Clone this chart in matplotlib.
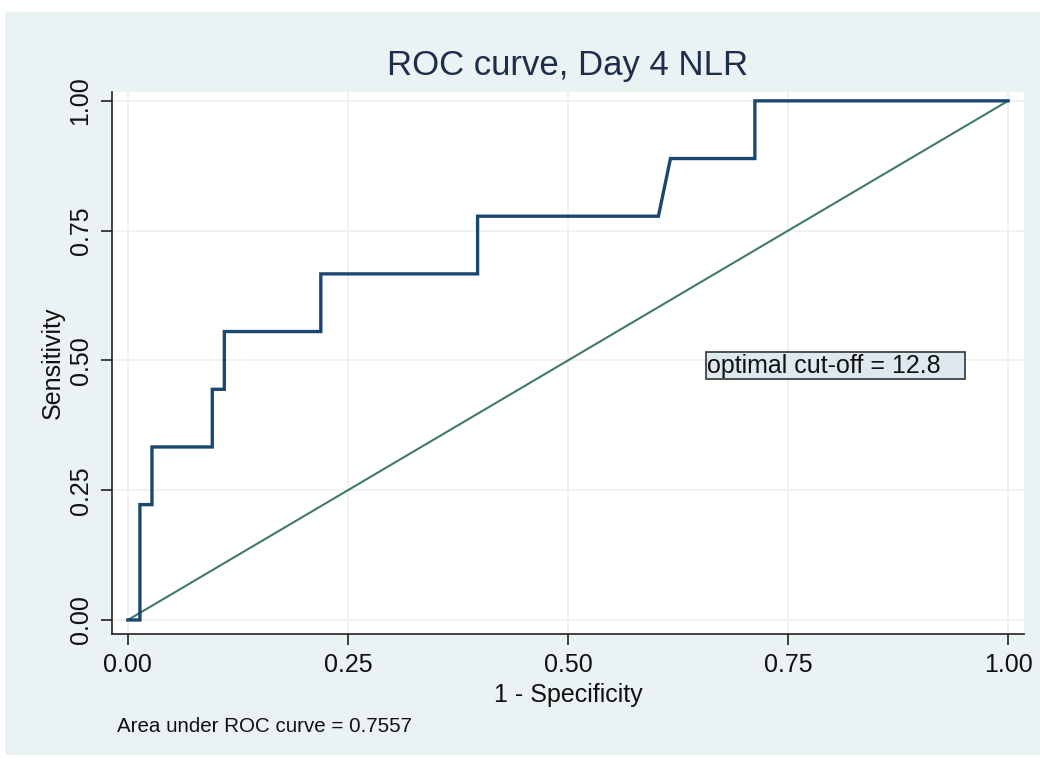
import matplotlib.pyplot as plt
from matplotlib.patches import Rectangle

plt.rcParams['font.family'] = ['Liberation Sans', 'DejaVu Sans']

# ROC curve points (1 - specificity, sensitivity)
fpr = [0.0, 0.0137, 0.0137, 0.0274, 0.0274, 0.0959, 0.0959, 0.1096, 0.1096,
       0.2192, 0.2192, 0.3973, 0.3973, 0.6027, 0.6164, 0.7123, 0.7123, 1.0]
tpr = [0.0, 0.0, 0.2222, 0.2222, 0.3333, 0.3333, 0.4444, 0.4444, 0.5556,
       0.5556, 0.6667, 0.6667, 0.7778, 0.7778, 0.8889, 0.8889, 1.0, 1.0]
ref_x = [0.0, 1.0]
ref_y = [0.0, 1.0]
ticks = [0.0, 0.25, 0.5, 0.75, 1.0]
tick_labels = ['0.00', '0.25', '0.50', '0.75', '1.00']
auc = 0.7557
cutoff = 12.8

bg = '#eaf2f3'
fig = plt.figure(figsize=(10.4, 7.6), dpi=100, facecolor='white')
fig.patches.append(Rectangle((5/1040, 5/760), 1 - 5/1040, 1 - 17/760,
                             transform=fig.transFigure, facecolor=bg,
                             edgecolor='none', zorder=-10))

ax = fig.add_axes([0.1077, 0.1658, 0.8769, 0.7131])
ax.set_facecolor('white')

ax.plot(fpr, tpr, color='#1a476f', lw=2.4, solid_joinstyle='miter', zorder=3)
ax.plot(ref_x, ref_y, color='#3f7a6c', lw=1.5, zorder=2)

ax.set_xlim(-0.018, 1.018)
ax.set_ylim(-0.027, 1.017)
ax.set_xticks(ticks)
ax.set_xticklabels(tick_labels)
ax.set_yticks(ticks)
ax.set_yticklabels(tick_labels, rotation=90, va='center')
ax.grid(True, color='#f0f0f0', lw=1.3)
ax.set_axisbelow(True)

for s in ['top', 'right']:
    ax.spines[s].set_visible(False)
for s in ['left', 'bottom']:
    ax.spines[s].set_color('#222222')
    ax.spines[s].set_linewidth(1.2)
ax.tick_params(axis='both', labelsize=18, length=8, width=1.2,
               color='#222222', labelcolor='#111111')
ax.tick_params(axis='x', pad=6)
ax.tick_params(axis='y', pad=6)

ax.set_xlabel('1 - Specificity', fontsize=18, color='#111111', labelpad=4)
ax.set_ylabel('Sensitivity', fontsize=18, color='#111111', labelpad=3)
ax.set_title('ROC curve, Day 4 NLR', fontsize=25, color='#1e2d4a', pad=12)

# cut-off annotation box
ax.add_patch(Rectangle((0.657, 0.464), 0.294, 0.052, facecolor='#dde9ef',
                       edgecolor='#333333', lw=1.2, zorder=4))
ax.text(0.658, 0.49, 'optimal cut-off = %.1f' % cutoff, fontsize=18,
        color='#111111', va='center', ha='left', zorder=5)

fig.text(117/1040, 1 - 727/760, 'Area under ROC curve = %.4f' % auc,
         fontsize=14.8, color='#111111', va='center', ha='left')

plt.savefig('out.png', dpi=100, facecolor='white')
